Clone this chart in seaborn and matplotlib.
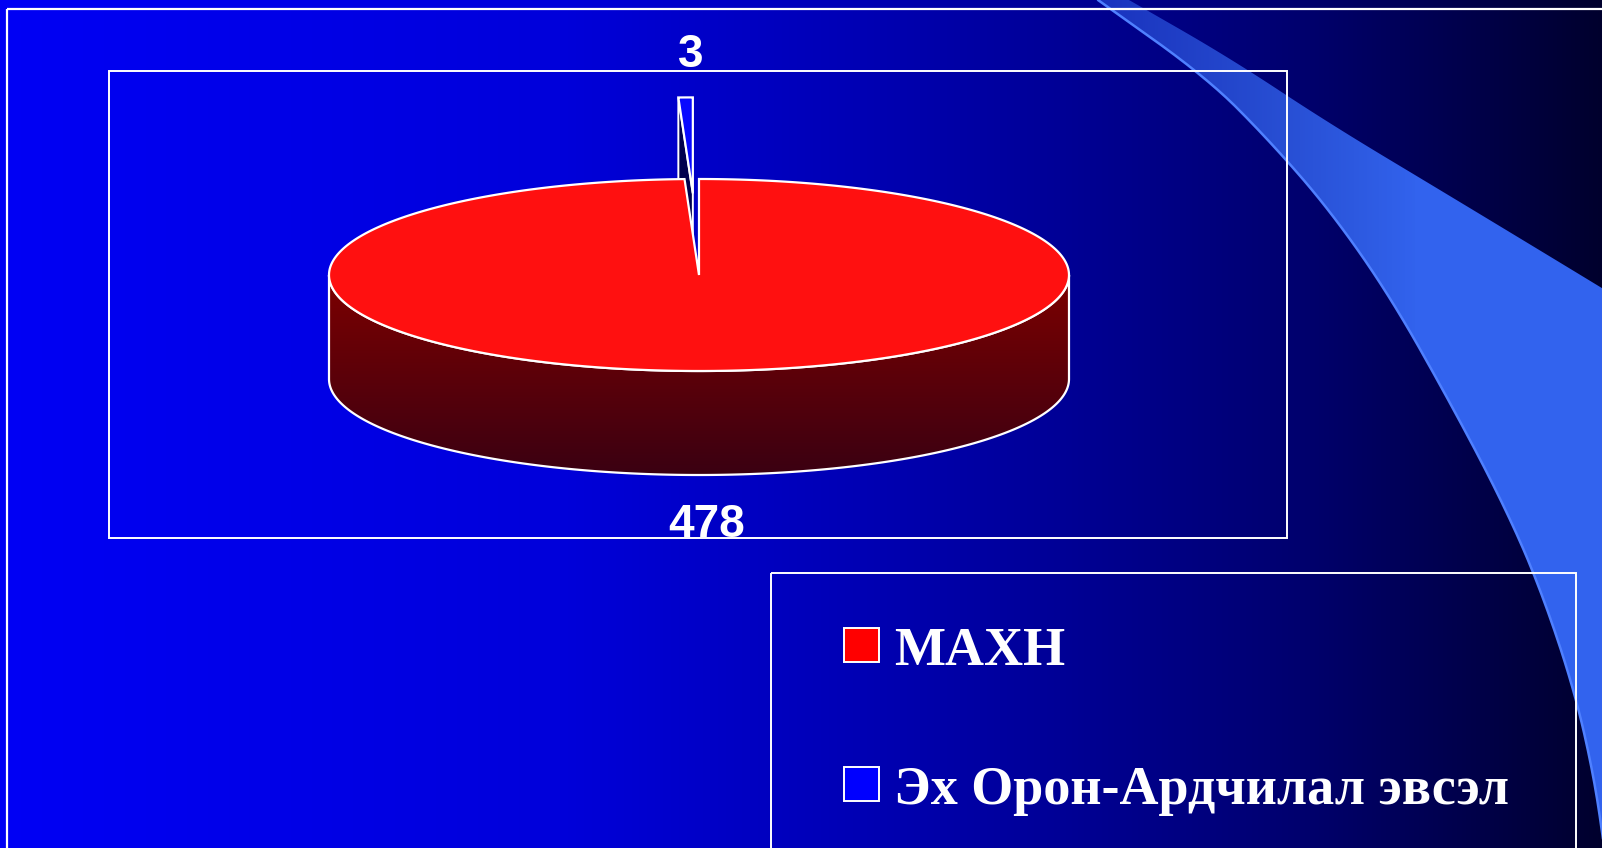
import numpy as np
import matplotlib
matplotlib.use("Agg")
import matplotlib.pyplot as plt
from matplotlib.patches import Polygon, Rectangle
import seaborn as sns

# ── data ──────────────────────────────────────────────────────────────────
parties = ["МАХН", "Эх Орон-Ардчилал эвсэл"]
values = [478, 3]
top_colors = ["#FF1010", "#0808FF"]
wall_colors = ["#7E0000", "#00004E"]
explode = [0.0, 0.85]

sns.set_style("white")

W, H = 1602, 848
fig = plt.figure(figsize=(W / 100, H / 100), dpi=100)
ax = fig.add_axes([0, 0, 1, 1])
ax.set_xlim(0, W)
ax.set_ylim(H, 0)
ax.axis("off")

# ── slide background: horizontal blue -> near black gradient ───────────────
xs = np.arange(W)
stops_x = [0, 560, 860, 1060, 1300, 1480, 1602]
stops_b = [245, 218, 180, 150, 110, 72, 45]
blue = np.interp(xs, stops_x, stops_b) / 255
grad = np.zeros((1, W, 3))
grad[0, :, 2] = blue
ax.imshow(grad, extent=(0, W, H, 0), aspect="auto", zorder=0, interpolation="bilinear")


def chaikin(pts, n=4):
    # corner cutting, keeps the end points
    p = np.asarray(pts, float)
    for _ in range(n):
        q = 0.75 * p[:-1] + 0.25 * p[1:]
        r = 0.25 * p[:-1] + 0.75 * p[1:]
        mid = np.empty((2 * len(q), 2))
        mid[0::2] = q
        mid[1::2] = r
        p = np.vstack([p[:1], mid, p[-1:]])
    return p


# decorative swoosh on the right
upper = chaikin([(1129, 0), (1230, 58), (1330, 124), (1450, 196), (1602, 288), (1700, 348)])
lower = chaikin([(1098, 0), (1206, 77), (1267, 138), (1329, 209), (1390, 296),
                 (1451, 404), (1502, 501), (1538, 582), (1573, 685), (1594, 776),
                 (1606, 860)])
edge = list(map(tuple, upper)) + [(1700, 900)] + list(map(tuple, lower[::-1]))
sw_poly = Polygon(edge, closed=True, fc="none", ec="none")
ax.add_patch(sw_poly)
sw_img = np.zeros((1, 520, 4))
sw_img[0, :, 0] = 50 / 255
sw_img[0, :, 1] = 99 / 255
sw_img[0, :, 2] = 238 / 255
sw_img[0, :, 3] = np.clip(np.linspace(0.5, 1.3, 520), 0, 1)
im = ax.imshow(sw_img, extent=(1090, 1610, H, 0), aspect="auto", zorder=1)
im.set_clip_path(sw_poly)
ax.plot(lower[:, 0], lower[:, 1], color="#4F80FF", lw=1.8, zorder=1.2)

# outer frame, plot area box, legend box
ax.add_patch(Rectangle((7, 9), 1610, 900, fill=False, ec="white", lw=1.6, zorder=5))
ax.add_patch(Rectangle((109, 71), 1178, 467, fill=False, ec="white", lw=1.4, zorder=5))
ax.add_patch(Rectangle((771, 573), 805, 300, fill=False, ec="white", lw=1.4, zorder=5))

# ── 3D pie ────────────────────────────────────────────────────────────────
cx, cy = 699, 275      # centre of top face
ra, rb = 370, 96       # ellipse radii
depth = 104


def pt(theta, r=1.0, off=(0, 0), drop=0):
    t = np.radians(theta)
    return (cx + off[0] + ra * r * np.cos(t), cy + off[1] - rb * r * np.sin(t) + drop)


total = sum(values)
# slices run clockwise from 12 o'clock, first series first
bounds = []
start = 90.0
for v in values:
    span = 360.0 * v / total
    bounds.append((start - span, start))
    start -= span

label_pos = []
for i, (t0, t1) in enumerate(bounds):
    mid = np.radians((t0 + t1) / 2)
    off = (ra * explode[i] * np.cos(mid), -rb * explode[i] * np.sin(mid))
    arc = np.linspace(t0, t1, 400)
    top = [pt(a, off=off) for a in arc]
    tip = (cx + off[0], cy + off[1])
    z = 3 if i == 0 else 2

    if i == 0:
        # front wall (180..360 visible), gradient filled
        front = np.linspace(max(t0, -180), min(t1, 0), 300)
        f_top = [pt(a, off=off) for a in front]
        f_bot = [pt(a, off=off, drop=depth) for a in front[::-1]]
        wall = Polygon(f_top + f_bot, closed=True, fc="none", ec="white", lw=1.6, zorder=z)
        ax.add_patch(wall)
        ys = np.linspace(0, 1, 200)
        c0 = np.array(matplotlib.colors.to_rgb(wall_colors[0]))
        c1 = np.array(matplotlib.colors.to_rgb("#3A0012"))
        wimg = (c0[None, :] * (1 - ys[:, None]) + c1[None, :] * ys[:, None])[:, None, :]
        wim = ax.imshow(wimg, extent=(cx - ra - 2, cx + ra + 2, cy + rb + depth + 2, cy - 4),
                        aspect="auto", zorder=z - 0.01)
        wim.set_clip_path(wall)
    else:
        # left radial wall of the exploded sliver
        o_top = pt(t1, off=off)
        ax.add_patch(Polygon([tip, o_top, (o_top[0], o_top[1] + depth),
                              (tip[0], tip[1] + depth)], closed=True,
                             fc=wall_colors[i], ec="white", lw=1.4, zorder=z))

    ax.add_patch(Polygon([tip] + top, closed=True, fc=top_colors[i], ec="white",
                         lw=1.6, joinstyle="miter", zorder=z + 0.1))

    outer = pt((t0 + t1) / 2, off=off)
    label_pos.append(outer)

# data labels
lab_font = dict(family="Liberation Sans", weight="bold", size=33, color="white", zorder=6)
x0, y0 = label_pos[0]
ax.text(x0, y0 + depth + 62, str(values[0]), ha="center", va="baseline", **lab_font)
x1, y1 = label_pos[1]
ax.text(x1 + 5, y1 - 30, str(values[1]), ha="center", va="baseline", **lab_font)

# ── legend ────────────────────────────────────────────────────────────────
legend_colors = ["#FF0000", "#0000FF"]
for k, name in enumerate(parties):
    ytop = 628 + k * 139
    ax.add_patch(Rectangle((844, ytop), 35, 34, fc=legend_colors[k], ec="white",
                           lw=1.4, zorder=6))
    ax.text(894, ytop + 37, name, ha="left", va="baseline", color="white",
            family="Liberation Serif", weight="bold", size=39, zorder=6)

fig.savefig("out.png", dpi=100)
